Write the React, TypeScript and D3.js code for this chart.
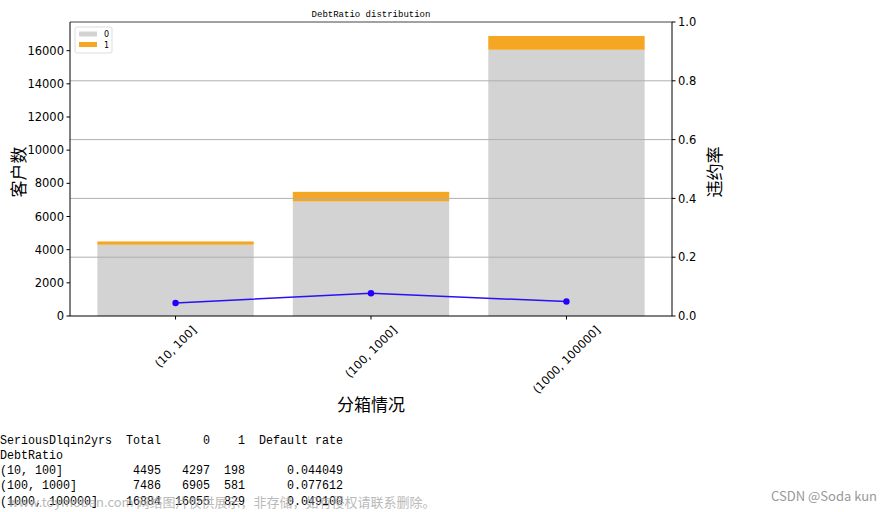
import React from 'react';
import * as d3 from 'd3';

const categories = ['(10, 100]', '(100, 1000]', '(1000, 100000]'];
const totals = [4495, 7486, 16884];
const good = [4297, 6905, 16055];
const bad = [198, 581, 829];
const rates = [0.044049, 0.077612, 0.0491];
const leftTicks = [0, 2000, 4000, 6000, 8000, 10000, 12000, 14000, 16000];
const rightTicks = [0, 0.2, 0.4, 0.6, 0.8, 1.0];

const W = 892;
const H = 512;
const plot = { left: 70, right: 672, top: 22, bottom: 316 };

const sansFont = '"Noto Sans CJK SC", "DejaVu Sans", sans-serif';
const tickFont = '"DejaVu Sans", sans-serif';
const monoFont = '"Liberation Mono", monospace';

let ctx: CanvasRenderingContext2D | null = null;
const measure = (text: string, font: string) => {
  if (!ctx) ctx = document.createElement('canvas').getContext('2d');
  if (!ctx) return text.length * 6.5;
  ctx.font = font;
  return ctx.measureText(text).width;
};

// pandas-style printout of the crosstab
const tableLines = [
  'SeriousDlqin2yrs  Total      0    1  Default rate',
  'DebtRatio',
  ...categories.map((c, i) =>
    c.padEnd(14) +
    String(totals[i]).padStart(9) +
    String(good[i]).padStart(7) +
    String(bad[i]).padStart(5) +
    rates[i].toFixed(6).padStart(14)
  ),
];

const App: React.FC = () => {
  const x = d3.scaleLinear().domain([-0.54, 2.54]).range([plot.left, plot.right]);
  const yL = d3.scaleLinear().domain([0, 16884 * 1.05]).range([plot.bottom, plot.top]);
  const yR = d3.scaleLinear().domain([0, 1]).range([plot.bottom, plot.top]);
  const barW = x(0.8) - x(0);

  const line = d3.line<number>()
    .x((_, i) => x(i))
    .y(d => yR(d));

  return (
    <svg width={W} height={H} style={{ position: 'absolute', left: 0, top: 0, background: '#fff' }}>
      <text x={371} y={17} textAnchor="middle" fontFamily={monoFont} fontSize={9} fill="#000">
        DebtRatio distribution
      </text>

      {/* bars */}
      {categories.map((c, i) => (
        <g key={c}>
          <rect x={x(i) - barW / 2} y={yL(good[i])} width={barW} height={yL(0) - yL(good[i])} fill="#d3d3d3" />
          <rect x={x(i) - barW / 2} y={yL(good[i] + bad[i])} width={barW}
            height={yL(good[i]) - yL(good[i] + bad[i])} fill="#f5a623" />
        </g>
      ))}

      {/* grid from right axis */}
      {rightTicks.slice(1, -1).map(t => (
        <line key={t} x1={plot.left} x2={plot.right} y1={yR(t)} y2={yR(t)} stroke="#b0b0b0" strokeWidth={1} />
      ))}

      {/* default-rate line */}
      <path d={line(rates) || ''} fill="none" stroke="#2a10f5" strokeWidth={1.5} />
      {rates.map((r, i) => (
        <circle key={i} cx={x(i)} cy={yR(r)} r={3.2} fill="#2200ff" />
      ))}

      {/* spines */}
      <line x1={plot.left} x2={plot.right} y1={plot.top} y2={plot.top} stroke="#444" strokeWidth={1} />
      <line x1={plot.left} x2={plot.right} y1={plot.bottom} y2={plot.bottom} stroke="#000" strokeWidth={1} />
      <line x1={plot.left} x2={plot.left} y1={plot.top} y2={plot.bottom} stroke="#000" strokeWidth={1} />
      <line x1={plot.right} x2={plot.right} y1={plot.top} y2={plot.bottom} stroke="#000" strokeWidth={1} />

      {/* left axis */}
      {leftTicks.map(t => (
        <g key={t}>
          <line x1={plot.left - 3.5} x2={plot.left} y1={yL(t)} y2={yL(t)} stroke="#000" />
          <text x={plot.left - 6} y={yL(t)} dy="0.36em" textAnchor="end" fontFamily={tickFont} fontSize={11.5} fill="#000">
            {t}
          </text>
        </g>
      ))}
      <text transform={`translate(17,172) rotate(-90)`} textAnchor="middle" dominantBaseline="central"
        fontFamily={sansFont} fontSize={17} fill="#000">客户数</text>

      {/* right axis */}
      {rightTicks.map(t => (
        <g key={t}>
          <line x1={plot.right} x2={plot.right + 3.5} y1={yR(t)} y2={yR(t)} stroke="#000" />
          <text x={plot.right + 6} y={yR(t)} dy="0.36em" fontFamily={tickFont} fontSize={11.5} fill="#000">
            {t.toFixed(1)}
          </text>
        </g>
      ))}
      <text transform={`translate(713,172) rotate(-90)`} textAnchor="middle" dominantBaseline="central"
        fontFamily={sansFont} fontSize={17} fill="#000">违约率</text>

      {/* x axis */}
      {categories.map((c, i) => {
        const fs = 11.5;
        const w = measure(c, `${fs}px "DejaVu Sans"`);
        const half = (w + fs) * Math.SQRT1_2 / 2;
        return (
          <g key={c}>
            <line x1={x(i)} x2={x(i)} y1={plot.bottom} y2={plot.bottom + 3.5} stroke="#000" />
            <text transform={`translate(${x(i)},${plot.bottom + 8 + half}) rotate(-45)`} textAnchor="middle"
              dominantBaseline="central" fontFamily={tickFont} fontSize={fs} fill="#000">{c}</text>
          </g>
        );
      })}
      <text x={371} y={411} textAnchor="middle" fontFamily={sansFont} fontSize={17} fill="#000">分箱情况</text>

      {/* legend */}
      <rect x={75} y={27} width={37} height={26} rx={2} fill="#fff" stroke="#ddd" />
      <rect x={79} y={31.5} width={18} height={5} fill="#d3d3d3" />
      <rect x={79} y={42} width={18} height={5} fill="#f5a623" />
      <text x={104} y={37} fontFamily={tickFont} fontSize={8} fill="#000">0</text>
      <text x={104} y={48} fontFamily={tickFont} fontSize={8} fill="#000">1</text>

      {/* printed table */}
      {tableLines.map((l, i) => (
        <text key={i} x={0} y={443.5 + i * 15.3} fontFamily={monoFont} fontSize={12} fill="#000"
          textLength={l.length * 7.0} lengthAdjust="spacingAndGlyphs" xmlSpace="preserve">{l}</text>
      ))}

      {/* page watermarks */}
      <text x={8} y={507} fontFamily={sansFont} fontSize={13} fill="#aaa" opacity={0.8}>
        www.toymoban.com 网络图片仅供展示，非存储，如有侵权请联系删除。
      </text>
      <text x={877} y={501} textAnchor="end" fontFamily={sansFont} fontSize={13} fill="#999">CSDN @Soda kun</text>
    </svg>
  );
};

export default App;
